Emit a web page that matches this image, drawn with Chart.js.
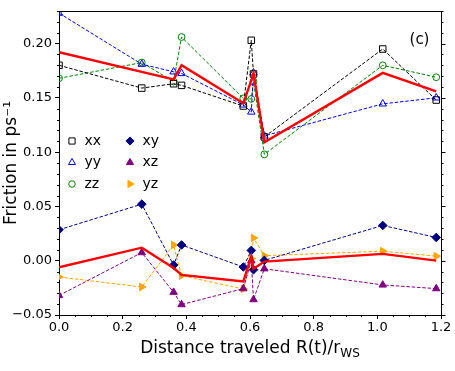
<!DOCTYPE html>
<html><head><meta charset="utf-8">
<script src="https://cdn.jsdelivr.net/npm/chart.js@4/dist/chart.umd.min.js"></script>
<style>html,body{margin:0;padding:0;background:#fff;overflow:hidden}</style>
</head><body>
<canvas id="c" width="455" height="371"></canvas>
<script>
// ---- data ----
const xVals  = [0.0, 0.26, 0.36, 0.385, 0.579, 0.604, 0.611, 0.645, 1.017, 1.185];
const xx     = [0.180, 0.159, 0.163, 0.1615, 0.1425, 0.203, 0.172, 0.114, 0.195, 0.148];
const yy     = [0.228, 0.181, 0.174, 0.1725, 0.1435, 0.137, 0.173, 0.115, 0.1445, 0.150];
const zz     = [0.168, 0.1825, 0.165, 0.206, 0.1495, 0.149, 0.165, 0.098, 0.180, 0.169];
const diagAvg= [0.192, 0.174, 0.167, 0.180, 0.145, 0.166, 0.173, 0.109, 0.173, 0.156];
const xy     = [0.0285, 0.0521, -0.004, 0.0145, -0.0058, 0.0095, -0.0083, 0.0003, 0.0325, 0.0214];
const xz     = [-0.032, 0.0075, -0.029, -0.0404, -0.0257, 0.0, -0.0358, -0.0074, -0.0223, -0.0257];
const yz     = [-0.0150, -0.0242, 0.0145, -0.0138, -0.026, 0.002, 0.021, 0.0046, 0.0088, 0.0042];
const offAvg = [-0.006, 0.012, -0.0067, -0.013, -0.019, 0.004, -0.0074, -0.0008, 0.0063, 0.0001];
const xTickStep = 0.2, yTickStep = 0.05;
const xLabel = 'Distance traveled R(t)/r', xLabelSub = 'WS';
const yLabel = 'Friction in ps\u207B\u00B9';
const panelTag = '(c)';
const legendItems = [
  ['xx','yy','zz'],
  ['xy','xz','yz']
];

const FONT = "'DejaVu Sans', sans-serif";
const styles = {
  xx: {color:'#000000', shape:'rect', r:4.6, fill:false, rot:0},
  yy: {color:'#0000ff', shape:'triangle', r:4.3, fill:false, rot:0},
  zz: {color:'#008000', shape:'circle', r:3.4, fill:false, rot:0},
  xy: {color:'#00007f', shape:'rectRot', r:4.3, fill:true, rot:0},
  xz: {color:'#800080', shape:'triangle', r:4.3, fill:true, rot:0},
  yz: {color:'#ffa500', shape:'triangle', r:4.3, fill:true, rot:90}
};
const seriesData = {xx, yy, zz, xy, xz, yz};

function pts(arr){ return xVals.map((x,i)=>({x, y:arr[i]})); }

const datasets = [];
['xx','yy','zz','xy','xz','yz'].forEach(k=>{
  const s = styles[k];
  datasets.push({
    label:k, data:pts(seriesData[k]), borderColor:s.color, borderWidth:1,
    borderDash:[3.5,1.8], pointStyle:s.shape, pointRadius:s.r, pointRotation:s.rot,
    pointBorderColor:s.color, pointBorderWidth:1,
    pointBackgroundColor: s.fill ? s.color : 'rgba(0,0,0,0)',
    clip:0, order:2, tension:0
  });
});
[diagAvg, offAvg].forEach((arr,i)=>{
  datasets.push({label:'avg'+i, data:pts(arr), borderColor:'#ff0000', borderWidth:2.4,
    pointRadius:0, clip:0, order:1, tension:0});
});

function shape(ctx, s, x, y, r){
  ctx.beginPath();
  if (s.shape==='rect'){ const h=r*Math.SQRT1_2; ctx.rect(x-h,y-h,2*h,2*h); }
  else if (s.shape==='circle'){ ctx.arc(x,y,r,0,Math.PI*2); }
  else if (s.shape==='rectRot'){ ctx.moveTo(x,y-r); ctx.lineTo(x+r,y); ctx.lineTo(x,y+r); ctx.lineTo(x-r,y); ctx.closePath(); }
  else { // triangle
    const a0 = (s.rot-90)*Math.PI/180;
    for(let i=0;i<3;i++){ const a=a0+i*2*Math.PI/3; const px=x+r*Math.cos(a), py=y+r*Math.sin(a); i?ctx.lineTo(px,py):ctx.moveTo(px,py);}
    ctx.closePath();
  }
  if (s.fill){ ctx.fillStyle=s.color; ctx.fill(); }
  ctx.strokeStyle=s.color; ctx.lineWidth=1; ctx.stroke();
}

const deco = {
  id:'deco',
  afterDraw(chart){
    const ctx = chart.ctx, a = chart.chartArea, xs = chart.scales.x, ys = chart.scales.y;
    ctx.save();
    ctx.strokeStyle='#000'; ctx.lineWidth=1;
    // top and right spines
    ctx.beginPath();
    ctx.moveTo(a.left, Math.round(a.top)+0.5); ctx.lineTo(a.right, Math.round(a.top)+0.5);
    ctx.moveTo(Math.round(a.right)+0.5, a.top); ctx.lineTo(Math.round(a.right)+0.5, a.bottom);
    ctx.stroke();
    // minor ticks
    ctx.beginPath();
    for (let v=0; v<=1.2001; v+=0.05){
      const px = Math.round(xs.getPixelForValue(v))+0.5;
      const major = Math.abs(v/0.2 - Math.round(v/0.2))<1e-6;
      if (!major){ ctx.moveTo(px, a.bottom); ctx.lineTo(px, a.bottom+2); }
    }
    for (let i=-5;i<=23;i++){
      const v=i/100; const py = Math.round(ys.getPixelForValue(v))+0.5;
      const major = i%5===0;
      const rx = Math.round(a.right)+0.5;
      if (major){ ctx.moveTo(rx, py); ctx.lineTo(rx+4, py); }
      else { ctx.moveTo(rx, py); ctx.lineTo(rx+2, py); ctx.moveTo(a.left, py); ctx.lineTo(a.left-2, py); }
    }
    ctx.stroke();
    // x-axis label with subscript
    ctx.fillStyle='#000'; ctx.textBaseline='alphabetic'; ctx.textAlign='left';
    ctx.font = '17px '+FONT; const w1 = ctx.measureText(xLabel).width;
    ctx.font = '12px '+FONT; const w2 = ctx.measureText(xLabelSub).width;
    const cx = (a.left+a.right)/2, x0 = cx-(w1+w2)/2;
    ctx.font = '17px '+FONT; ctx.fillText(xLabel, x0, 353);
    ctx.font = '12px '+FONT; ctx.fillText(xLabelSub, x0+w1, 357);
    // panel tag
    ctx.font='15px '+FONT; ctx.textAlign='center'; ctx.textBaseline='middle';
    ctx.fillText(panelTag, 419.5, 40);
    // legend
    const colX = [72, 130], rowY=[141, 162.5, 184];
    ctx.font='14px '+FONT; ctx.textAlign='left'; ctx.textBaseline='middle';
    legendItems.forEach((col,ci)=>col.forEach((k,ri)=>{
      shape(ctx, styles[k], colX[ci], rowY[ri], styles[k].r*0.95);
      ctx.fillStyle='#000'; ctx.fillText(k, colX[ci]+12.5, rowY[ri]);
    }));
    ctx.restore();
  }
};

new Chart(document.getElementById('c'), {
  type:'line',
  data:{datasets},
  options:{
    responsive:false, animation:false, events:[],
    layout:{padding:{left:0,right:14,top:11,bottom:0}},
    plugins:{legend:{display:false}, tooltip:{enabled:false}},
    scales:{
      x:{type:'linear', min:0, max:1.2,
        ticks:{stepSize:xTickStep, includeBounds:false, color:'#000', font:{family:FONT,size:13}, padding:1,
          maxRotation:0, callback:v=>v.toFixed(1)},
        grid:{drawOnChartArea:false, drawTicks:true, tickLength:4, tickColor:'#000', color:'#000'},
        border:{display:true, color:'#000', width:1},
        afterFit:s=>{s.height=56; s.paddingLeft=0; s.paddingRight=0;}
      },
      y:{type:'linear', min:-0.05, max:0.23,
        ticks:{stepSize:yTickStep, includeBounds:false, color:'#000', font:{family:FONT,size:13}, padding:3,
          callback:v=>v.toFixed(2).replace('-','\u2212')},
        grid:{drawOnChartArea:false, drawTicks:true, tickLength:4, tickColor:'#000', color:'#000'},
        border:{display:true, color:'#000', width:1},
        title:{display:true, text:yLabel, color:'#000', font:{family:FONT,size:17}, padding:{top:1,bottom:0}},
        afterFit:s=>{s.width=59; s.paddingTop=0; s.paddingBottom=0;}
      }
    }
  },
  plugins:[deco]
});
</script>
</body></html>
